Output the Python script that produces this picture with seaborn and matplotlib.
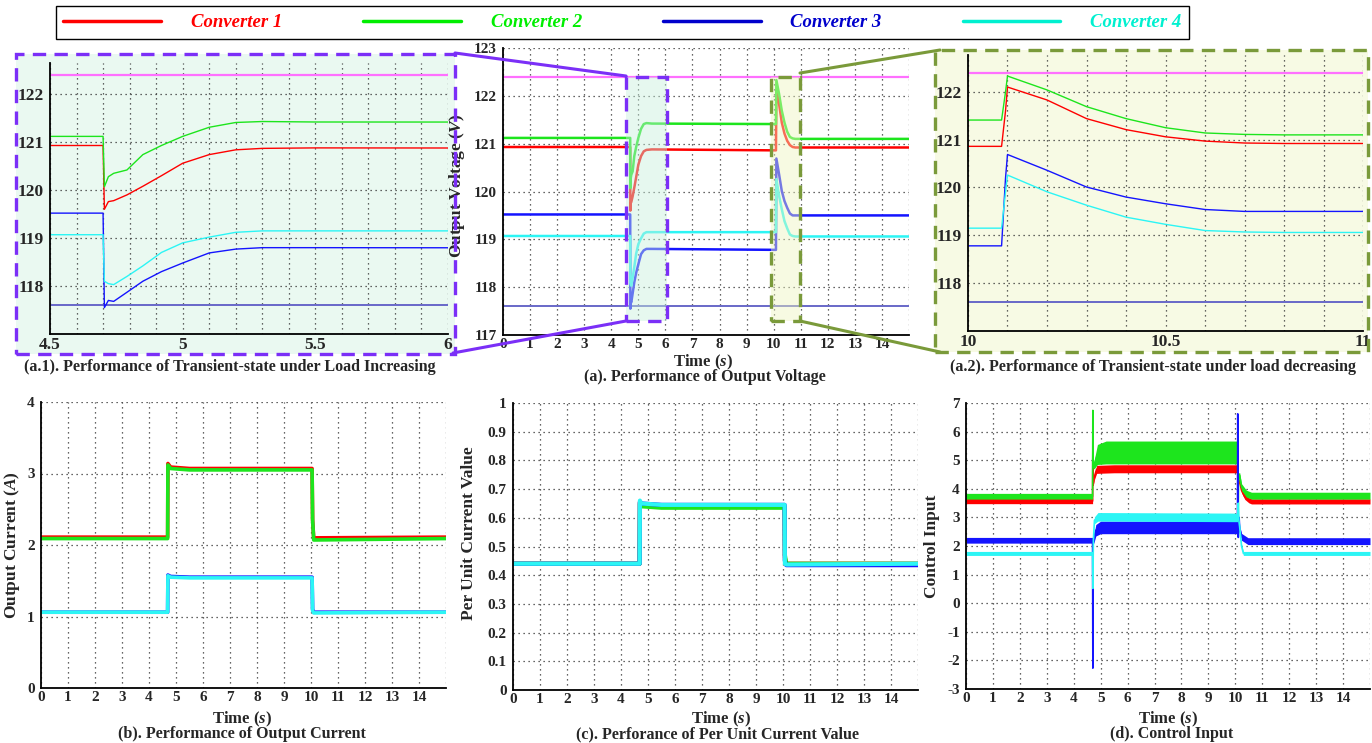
import numpy as np
import pandas as pd
import seaborn as sns
import matplotlib.pyplot as plt
import matplotlib.ticker as mticker
from matplotlib.patches import Rectangle
from matplotlib.lines import Line2D

sns.set_style("white")
plt.rcParams['font.family'] = ['Liberation Serif', 'DejaVu Serif']
plt.rcParams['font.weight'] = 'bold'
plt.rcParams['mathtext.fontset'] = 'custom'
plt.rcParams['mathtext.rm'] = 'Liberation Serif:bold'
plt.rcParams['mathtext.it'] = 'Liberation Serif:italic:bold'

# legend / series
names = ['Converter 1', 'Converter 2', 'Converter 3', 'Converter 4']
line_colors = ['#ff0000', '#1de51d', '#1414ff', '#2cf5f5']
legend_colors = ['#ff0000', '#00ee00', '#0000cc', '#00f0d0']

# output voltage (V)
volt_t = [0, 4.70, 4.705, 4.72, 4.74, 4.79, 4.85, 4.92, 5.0, 5.1, 5.2, 5.3, 5.5,
          10.085, 10.095, 10.10, 10.2, 10.3, 10.4, 10.5, 10.6, 10.7, 10.8, 15]
volt_c1 = [120.93, 120.93, 119.6, 119.76, 119.78, 119.9, 120.08, 120.3, 120.56, 120.74, 120.84, 120.87, 120.88,
           120.86, 121.6, 122.1, 121.83, 121.44, 121.21, 121.06, 120.97, 120.93, 120.92, 120.92]
volt_c2 = [121.12, 121.12, 120.07, 120.28, 120.35, 120.42, 120.74, 120.93, 121.12, 121.31, 121.41, 121.43, 121.42,
           121.41, 122.0, 122.33, 122.04, 121.69, 121.44, 121.25, 121.14, 121.11, 121.1, 121.1]
volt_c3 = [119.52, 119.52, 117.55, 117.7, 117.68, 117.87, 118.1, 118.3, 118.48, 118.69, 118.77, 118.8, 118.8,
           118.78, 120.2, 120.69, 120.36, 120.01, 119.8, 119.66, 119.54, 119.5, 119.5, 119.5]
volt_c4 = [119.07, 119.07, 118.1, 118.05, 118.03, 118.2, 118.42, 118.7, 118.9, 119.02, 119.12, 119.15, 119.15,
           119.15, 119.9, 120.26, 119.91, 119.63, 119.38, 119.23, 119.1, 119.07, 119.06, 119.06]
volt_ref_hi = 122.4
volt_ref_lo = 117.6

# output current (A)
cur_t = [0, 4.69, 4.70, 4.8, 5.5, 10.04, 10.06, 10.1, 15]
cur_c1 = [2.11, 2.11, 3.14, 3.09, 3.07, 3.07, 2.35, 2.1, 2.11]
cur_c2 = [2.09, 2.09, 3.12, 3.07, 3.05, 3.05, 2.35, 2.07, 2.09]
cur_c3 = [1.06, 1.06, 1.58, 1.56, 1.55, 1.55, 1.1, 1.06, 1.06]
cur_c4 = [1.06, 1.06, 1.57, 1.55, 1.54, 1.54, 1.08, 1.05, 1.06]

# per unit current
pu_t = [0, 4.69, 4.70, 4.75, 5.5, 10.06, 10.07, 10.12, 15]
pu_c1 = [0.44, 0.44, 0.655, 0.645, 0.64, 0.64, 0.46, 0.44, 0.44]
pu_c2 = [0.44, 0.44, 0.65, 0.64, 0.635, 0.635, 0.47, 0.44, 0.44]
pu_c3 = [0.44, 0.44, 0.655, 0.65, 0.645, 0.645, 0.45, 0.435, 0.435]
pu_c4 = [0.44, 0.44, 0.66, 0.65, 0.645, 0.645, 0.44, 0.437, 0.44]

# control input: centre of noisy trace and its half spread
ctrl_t1 = [0, 4.70, 4.71, 4.72, 4.76, 4.85, 5.5, 10.09, 10.11, 10.16, 10.23, 10.35, 10.5, 10.6, 15]
ctrl_c1 = [3.57, 3.57, 5.46, 4.13, 4.4, 4.68, 4.7, 4.7, 4.3, 4.24, 3.95, 3.72, 3.6, 3.56, 3.56]
ctrl_s1 = [0.09, 0.09, 0.02, 0.03, 0.1, 0.14, 0.14, 0.14, 0.05, 0.08, 0.09, 0.09, 0.09, 0.09, 0.09]
ctrl_t2 = [0, 4.70, 4.71, 4.72, 4.76, 4.88, 5.2, 10.09, 10.10, 10.12, 10.16, 10.23, 10.41, 10.6, 15]
ctrl_c2 = [3.74, 3.74, 6.74, 4.76, 4.85, 5.2, 5.27, 5.27, 2.4, 4.5, 4.47, 4.06, 3.83, 3.76, 3.76]
ctrl_s2 = [0.1, 0.1, 0.02, 0.05, 0.15, 0.35, 0.4, 0.4, 0.02, 0.05, 0.1, 0.12, 0.12, 0.12, 0.12]
ctrl_t3 = [0, 4.70, 4.71, 4.72, 4.76, 4.82, 5.0, 10.08, 10.09, 10.11, 10.14, 10.16, 10.23, 10.47, 15]
ctrl_c3 = [2.2, 2.2, -2.27, 2.09, 2.3, 2.55, 2.65, 2.65, 6.62, 2.3, 3.0, 2.62, 2.32, 2.17, 2.17]
ctrl_s3 = [0.1, 0.1, 0.02, 0.05, 0.15, 0.2, 0.22, 0.22, 0.02, 0.02, 0.05, 0.1, 0.12, 0.12, 0.12]
ctrl_t4 = [0, 4.70, 4.71, 4.73, 4.77, 4.9, 10.09, 10.11, 10.13, 10.16, 10.23, 10.3, 15]
ctrl_c4 = [1.74, 1.74, 0.52, 2.21, 2.9, 3.02, 3.0, 3.5, 2.9, 2.67, 2.0, 1.74, 1.74]
ctrl_s4 = [0.07, 0.07, 0.02, 0.05, 0.12, 0.15, 0.15, 0.02, 0.05, 0.07, 0.07, 0.07, 0.07]

W, H = 1372, 743
fig = plt.figure(figsize=(W / 100, H / 100), dpi=100)


def fbox(l, t, r, b):
    return [l / W, 1 - b / H, (r - l) / W, (b - t) / H]


def fxy(x, y):
    return x / W, 1 - y / H


ax_a1 = fig.add_axes(fbox(50, 63, 448, 334))
ax_a = fig.add_axes(fbox(503, 48, 909, 335))
ax_a2 = fig.add_axes(fbox(968, 55, 1363, 331))
ax_b = fig.add_axes(fbox(41, 402, 446, 688))
ax_c = fig.add_axes(fbox(513, 403, 918, 690))
ax_d = fig.add_axes(fbox(966, 403, 1370, 689))


def style(ax, xlim, ylim, xmaj, xmin, ymaj, ymin, xfmt, yfmt='%g', size=11):
    ax.set_xlim(xlim)
    ax.set_ylim(ylim)
    ax.xaxis.set_major_locator(mticker.MultipleLocator(xmaj))
    ax.xaxis.set_minor_locator(mticker.MultipleLocator(xmin))
    ax.yaxis.set_major_locator(mticker.MultipleLocator(ymaj))
    ax.yaxis.set_minor_locator(mticker.MultipleLocator(ymin))
    ax.xaxis.set_major_formatter(mticker.FuncFormatter(xfmt))
    ax.yaxis.set_major_formatter(mticker.FormatStrFormatter(yfmt))
    ax.grid(True, which='major', ls=(0, (1, 3)), color='#333333', lw=0.9)
    for s in ['top', 'right']:
        ax.spines[s].set_visible(False)
    for s in ['left', 'bottom']:
        ax.spines[s].set_color('black')
        ax.spines[s].set_linewidth(1.3)
    ax.tick_params(axis='x', which='both', direction='in', labelsize=size, pad=2)
    ax.tick_params(axis='x', which='major', length=4)
    ax.tick_params(axis='x', which='minor', length=3)
    ax.tick_params(axis='y', which='both', direction='out', labelsize=size, pad=1.5)
    ax.tick_params(axis='y', which='major', length=3)
    ax.tick_params(axis='y', which='minor', length=2)
    for lab in ax.get_xticklabels() + ax.get_yticklabels():
        lab.set_fontweight('bold')
    ax.set_xlabel('')
    ax.set_ylabel('')


def int_fmt(x, pos):
    return '' if x > 14.5 else '%d' % round(x)


def half_fmt(x, pos):
    return '%g' % round(x, 1) if abs(x * 2 - round(x * 2)) < 1e-6 else ''


volt = [volt_c1, volt_c2, volt_c3, volt_c4]
for ax, lw in [(ax_a1, 1.0), (ax_a, 1.8), (ax_a2, 1.0)]:
    ax.axhline(volt_ref_hi, color='#ff70ff', lw=1.6, zorder=1.5)
    ax.axhline(volt_ref_lo, color='#6868c8', lw=1.4, zorder=1.5)
    for v, c in zip(volt, line_colors):
        sns.lineplot(x=volt_t, y=v, ax=ax, color=c, lw=lw, estimator=None,
                     sort=False, legend=False, zorder=2)

style(ax_a1, (4.5, 6), (117, 122.65), 0.1, 0.05, 1, 0.5, half_fmt, size=12.5)
ax_a1.set_yticks([118, 119, 120, 121, 122])
style(ax_a2, (10, 11), (117, 122.77), 0.1, 0.05, 1, 0.5, half_fmt, size=12.5)
ax_a2.set_yticks([118, 119, 120, 121, 122])
style(ax_a, (0, 15), (117, 123), 1, 0.5, 1, 0.5, int_fmt)
ax_a.set_ylabel('Output Voltage ($V$)', fontsize=12.5, fontweight='bold')
ax_a.yaxis.set_label_coords(-0.088, 0.52)
for ax in (ax_a1, ax_a2):
    ax.patch.set_alpha(0)

# zoom windows inside panel (a)
ax_a.add_patch(Rectangle((4.53, 117.29), 1.52, 5.11, facecolor='#c8f0dc', alpha=0.45,
                         edgecolor='none', zorder=3))
ax_a.add_patch(Rectangle((4.53, 117.29), 1.52, 5.11, facecolor='none', edgecolor='#7b2ff7',
                         lw=2.4, ls=(0, (4, 2.5)), zorder=4, clip_on=False))
ax_a.add_patch(Rectangle((9.9, 117.29), 1.08, 5.11, facecolor='#eef5c0', alpha=0.45,
                         edgecolor='none', zorder=3))
ax_a.add_patch(Rectangle((9.9, 117.29), 1.08, 5.11, facecolor='none', edgecolor='#7a9a3a',
                         lw=2.4, ls=(0, (4, 2.5)), zorder=4, clip_on=False))

# inset frames and connector lines (figure coordinates)
fig.add_artist(Rectangle(fxy(16, 354), 439 / W, 300 / H, transform=fig.transFigure,
                         facecolor='#eaf9f1', edgecolor='none', zorder=-2))
fig.add_artist(Rectangle(fxy(16, 354), 439 / W, 300 / H, transform=fig.transFigure,
                         facecolor='none', edgecolor='#7b2ff7', lw=2.4, ls=(0, (4, 2.5)), zorder=6))
fig.add_artist(Rectangle(fxy(935, 352), 433 / W, 302 / H, transform=fig.transFigure,
                         facecolor='#f7fae4', edgecolor='none', zorder=-2))
fig.add_artist(Rectangle(fxy(935, 352), 433 / W, 302 / H, transform=fig.transFigure,
                         facecolor='none', edgecolor='#7a9a3a', lw=2.4, ls=(0, (4, 2.5)), zorder=6))
for (x0, y0), (x1, y1), c in [((455, 53), (626, 76), '#7b2ff7'), ((453, 353), (626, 321), '#7b2ff7'),
                              ((800, 73), (940, 50), '#7a9a3a'), ((800, 321), (940, 352), '#7a9a3a')]:
    p0, p1 = fxy(x0, y0), fxy(x1, y1)
    fig.add_artist(Line2D([p0[0], p1[0]], [p0[1], p1[1]], transform=fig.transFigure,
                          color=c, lw=2.2, zorder=6))

# output current
for v, c in zip([cur_c1, cur_c2, cur_c3, cur_c4], line_colors):
    sns.lineplot(x=cur_t, y=v, ax=ax_b, color=c, lw=2.6, estimator=None, sort=False, legend=False)
style(ax_b, (0, 15), (0, 4), 1, 0.5, 1, 0.5, int_fmt)
ax_b.set_ylabel('Output Current ($A$)', fontsize=12.5, fontweight='bold')
ax_b.yaxis.set_label_coords(-0.047, 0.5)

# per unit current
for v, c in zip([pu_c1, pu_c2, pu_c3, pu_c4], line_colors):
    sns.lineplot(x=pu_t, y=v, ax=ax_c, color=c, lw=3.0, estimator=None, sort=False, legend=False)
style(ax_c, (0, 15), (0, 1), 1, 0.5, 0.1, 0.05, int_fmt)
ax_c.set_ylabel('Per Unit Current Value', fontsize=12.5, fontweight='bold')
ax_c.yaxis.set_label_coords(-0.089, 0.545)

# control input
ctrl = [(ctrl_t1, ctrl_c1, ctrl_s1), (ctrl_t2, ctrl_c2, ctrl_s2),
        (ctrl_t3, ctrl_c3, ctrl_s3), (ctrl_t4, ctrl_c4, ctrl_s4)]
for (t, v, s), c in zip(ctrl, line_colors):
    v = np.array(v)
    s = np.array(s)
    ax_d.fill_between(t, v - s, v + s, color=c, lw=0, zorder=2)
    sns.lineplot(x=t, y=v, ax=ax_d, color=c, lw=1.2, estimator=None, sort=False, legend=False, zorder=2)
style(ax_d, (0, 15), (-3, 7), 1, 0.5, 1, 0.5, int_fmt)
ax_d.set_ylabel('Control Input', fontsize=12.5, fontweight='bold')
ax_d.yaxis.set_label_coords(-0.064, 0.5)

# x labels and captions
for x, y in [(703, 362), (242, 719), (721, 719), (1168, 719)]:
    fig.text(*fxy(x, y), 'Time ($s$)', ha='center', va='center', fontsize=12, fontweight='bold')
captions = [(230, 367, '(a.1). Performance of Transient-state under Load Increasing'),
            (705, 377, '(a). Performance of Output Voltage'),
            (1153, 367, '(a.2). Performance of Transient-state under load decreasing'),
            (242, 734, '(b). Performance of Output Current'),
            (718, 734, '(c). Perforance of Per Unit Current Value'),
            (1172, 734, '(d). Control Input')]
for x, y, s in captions:
    fig.text(*fxy(x, y), s, ha='center', va='center', fontsize=11.5, fontweight='bold')

# legend
handles = [Line2D([], [], color=c, lw=2.5) for c in legend_colors]
leg = fig.legend(handles, names, loc='center', ncol=4, mode='expand',
                 bbox_to_anchor=(56 / W, 1 - 39 / H, 1133 / W, 33 / H), borderaxespad=0,
                 handlelength=5.2, handletextpad=1.6, frameon=True, fancybox=False,
                 edgecolor='black', framealpha=1,
                 prop=dict(family='Liberation Serif', weight='bold', style='italic', size=13.5))
leg.get_frame().set_linewidth(1.0)
for txt, c in zip(leg.get_texts(), legend_colors):
    txt.set_color(c)

fig.savefig('out.png', dpi=100)
